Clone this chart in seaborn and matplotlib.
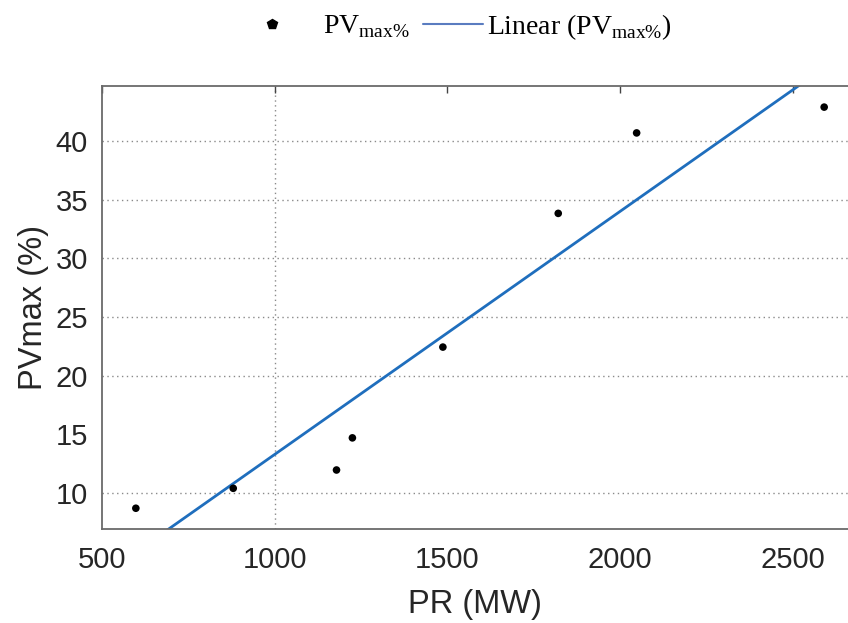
import numpy as np
import pandas as pd
import matplotlib
matplotlib.use("Agg")
import matplotlib.pyplot as plt
from matplotlib.lines import Line2D
import seaborn as sns

# Data
pr_mw = [598, 880, 1179, 1225, 1487, 1821, 2048, 2591]
pv_max = [8.7, 10.4, 11.96, 14.7, 22.44, 33.84, 40.7, 42.9]
x_ticks = [500, 1000, 1500, 2000, 2500]
y_ticks = [10, 15, 20, 25, 30, 35, 40]
y_grid = [10, 20, 25, 30, 35, 40]
x_grid = [1000]

df = pd.DataFrame({"PR": pr_mw, "PV": pv_max})

sns.set_theme(style="white")
plt.rcParams["font.family"] = ["Liberation Sans", "DejaVu Sans"]
plt.rcParams["mathtext.fontset"] = "custom"
plt.rcParams["mathtext.rm"] = "Liberation Serif"

fig = plt.figure(figsize=(8.48, 6.23), dpi=100)
ax = fig.add_axes([102 / 848, 94 / 623, 1 - 102 / 848, (529 - 86) / 623])

xlim = (500, 2660)
ylim = (6.93, 44.7)
ax.set_xlim(*xlim)
ax.set_ylim(*ylim)

grid_kw = dict(color="#8a8a8a", linestyle=(0, (1, 2.5)), linewidth=1.0, zorder=0)
for g in y_grid:
    ax.axhline(g, **grid_kw)
for g in x_grid:
    ax.axvline(g, **grid_kw)

sns.regplot(data=df, x="PR", y="PV", ax=ax, scatter=False, ci=None,
            truncate=False, color="#1f6ebd", line_kws=dict(linewidth=2.0))
sns.scatterplot(data=df, x="PR", y="PV", ax=ax, color="black", s=30,
                marker="o", edgecolor="none", zorder=5)

ax.set_xlim(*xlim)
ax.set_ylim(*ylim)
ax.set_xticks(x_ticks)
ax.set_yticks(y_ticks)

txt_color = "#262626"
ax.tick_params(axis="both", direction="in", length=5, width=1, color="#444444",
               labelsize=21, labelcolor=txt_color)
ax.tick_params(axis="x", top=True, pad=12)
ax.tick_params(axis="y", pad=10)

for side in ["left", "bottom", "top"]:
    ax.spines[side].set_color("#6a6a6a")
    ax.spines[side].set_linewidth(1.3)
ax.spines["right"].set_visible(False)

ax.set_xlabel("PR (MW)", fontsize=23.5, color=txt_color, labelpad=11)
ax.set_ylabel("PVmax (%)", fontsize=23.5, color=txt_color, labelpad=5)

leg_prop = {"family": "Liberation Serif", "size": 20}
y_leg = 1 - 27 / 623
leg1 = fig.legend([Line2D([], [], marker="p", linestyle="none", color="black", markersize=7)],
                  [r"PV$_{\mathregular{max\%}}$"],
                  loc="center left", bbox_to_anchor=(242 / 848, y_leg),
                  frameon=False, prop=leg_prop, borderpad=0, borderaxespad=0,
                  handlelength=2.16, handletextpad=0.75, labelcolor="black")
leg2 = fig.legend([Line2D([], [], color="#5a7cc0", linewidth=1.5)],
                  [r"Linear (PV$_{\mathregular{max\%}}$)"],
                  loc="center left", bbox_to_anchor=(423 / 848, y_leg),
                  frameon=False, prop=leg_prop, borderpad=0, borderaxespad=0,
                  handlelength=2.16, handletextpad=0.14, labelcolor="black")

fig.savefig("out.png", dpi=100)
